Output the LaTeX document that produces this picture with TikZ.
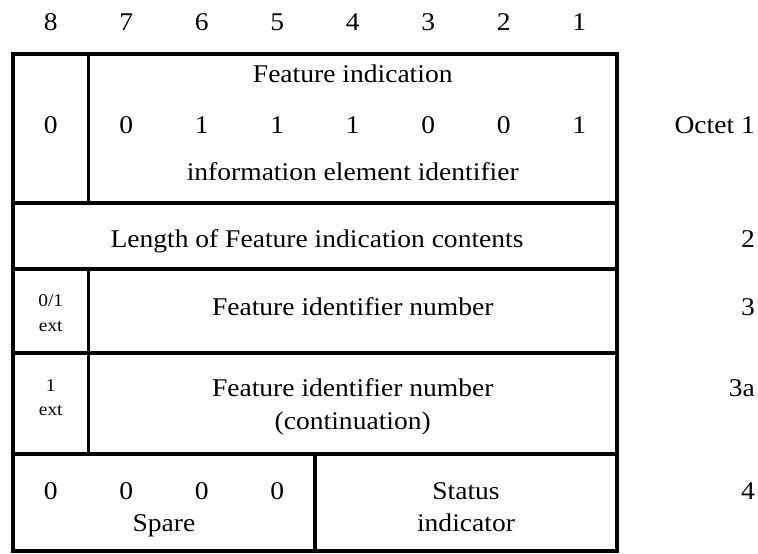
\documentclass[tikz,border=0pt]{standalone}
\usepackage{fontspec}
\usepackage{graphicx}
\setmainfont{Liberation Serif}
\newcommand{\wtxt}[1]{\scalebox{1.08}[1]{#1}}
\begin{document}
\begin{tikzpicture}[x=1pt,y=-1pt,
  frame/.style={line width=3.6pt, line cap=rect},
  big/.style={font=\fontsize{25.5}{30}\selectfont, inner sep=0pt, anchor=base},
  small/.style={font=\fontsize{18}{22}\selectfont, inner sep=0pt, anchor=base},
  lab/.style={font=\fontsize{25.5}{30}\selectfont, inner sep=0pt, anchor=base east}]
\useasboundingbox (0,0) rectangle (758,554);
% frame
\draw[frame] (13,54) rectangle (617,551);
\draw[frame] (13,203) -- (617,203);
\draw[frame] (13,269) -- (617,269);
\draw[frame] (13,353) -- (617,353);
\draw[frame] (13,454) -- (617,454);
\draw[frame] (88.5,54) -- (88.5,203);
\draw[frame] (88.5,269) -- (88.5,454);
\draw[frame] (315,454) -- (315,551);
% header bit numbers
\node[big] (h8) at (50.75,30) {\wtxt{8}};
\node[big] (h7) at (126.25,30) {\wtxt{7}};
\node[big] (h6) at (201.75,30) {\wtxt{6}};
\node[big] (h5) at (277.25,30) {\wtxt{5}};
\node[big] (h4) at (352.75,30) {\wtxt{4}};
\node[big] (h3) at (428.25,30) {\wtxt{3}};
\node[big] (h2) at (503.75,30) {\wtxt{2}};
\node[big] (h1) at (579.25,30) {\wtxt{1}};
% row 1
\node[big] (fi) at (352.75,82) {\wtxt{Feature indication}};
\node[big] (b8) at (50.75,133) {\wtxt{0}};
\node[big] (b7) at (126.25,133) {\wtxt{0}};
\node[big] (b6) at (201.75,133) {\wtxt{1}};
\node[big] (b5) at (277.25,133) {\wtxt{1}};
\node[big] (b4) at (352.75,133) {\wtxt{1}};
\node[big] (b3) at (428.25,133) {\wtxt{0}};
\node[big] (b2) at (503.75,133) {\wtxt{0}};
\node[big] (b1) at (579.25,133) {\wtxt{1}};
\node[big] (iei) at (352.75,180) {\wtxt{information element identifier}};
\node[lab] (o1) at (755,133) {\wtxt{Octet 1}};
% row 2
\node[big] (len) at (317,247) {\wtxt{Length of Feature indication contents}};
\node[lab] (o2) at (755,247) {\wtxt{2}};
% row 3
\node[small] (e3a) at (50.75,306) {\wtxt{0/1}};
\node[small] (e3b) at (50.75,331) {\wtxt{ext}};
\node[big] (fin) at (352.75,315) {\wtxt{Feature identifier number}};
\node[lab] (o3) at (755,315) {\wtxt{3}};
% row 4
\node[small] (e4a) at (50.75,391) {\wtxt{1}};
\node[small] (e4b) at (50.75,415) {\wtxt{ext}};
\node[big] (fin2) at (352.75,396) {\wtxt{Feature identifier number}};
\node[big] (cont) at (352.75,429) {\wtxt{(continuation)}};
\node[lab] (o3a) at (755,396) {\wtxt{3a}};
% row 5
\node[big] (s8) at (50.75,499) {\wtxt{0}};
\node[big] (s7) at (126.25,499) {\wtxt{0}};
\node[big] (s6) at (201.75,499) {\wtxt{0}};
\node[big] (s5) at (277.25,499) {\wtxt{0}};
\node[big] (sp) at (164,531) {\wtxt{Spare}};
\node[big] (st) at (466,499) {\wtxt{Status}};
\node[big] (si) at (466,531) {\wtxt{indicator}};
\node[lab] (o4) at (755,499) {\wtxt{4}};
\end{tikzpicture}
\end{document}
